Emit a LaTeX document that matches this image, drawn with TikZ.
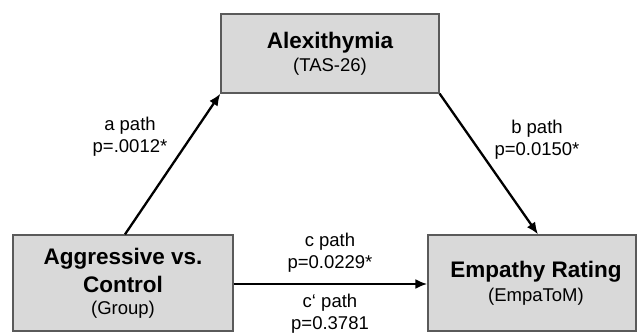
\documentclass[tikz,border=0pt]{standalone}
\usepackage{fontspec}
\setmainfont{Liberation Sans}
\usetikzlibrary{arrows.meta}
\definecolor{boxfill}{HTML}{D9D9D9}
\definecolor{boxline}{HTML}{5A5A5A}
\newcommand{\bigb}[1]{{\fontsize{22.5}{22}\selectfont\bfseries #1}}
\begin{document}
\begin{tikzpicture}[x=1pt,y=-1pt,
  varbox/.style={draw=boxline,line width=1.3pt,fill=boxfill,align=center,inner sep=0pt,
    font=\fontsize{18.5}{22}\selectfont},
  pathlbl/.style={align=center,inner sep=0pt,font=\fontsize{18.5}{22}\selectfont},
  conn/.style={line width=2.3pt,-{Latex[length=12pt,width=10pt]}}]
\useasboundingbox (0,0) rectangle (638,333);
\node[varbox,minimum width=218pt,minimum height=79pt] (alex) at (330,53.5)
  {\bigb{Alexithymia}\\[1pt](TAS-26)};
\node[varbox,minimum width=220pt,minimum height=96pt] (agg) at (123,283)
  {\bigb{Aggressive vs.}\\[6pt]\bigb{Control}\\(Group)};
\node[varbox,minimum width=208pt,minimum height=96pt,text width=208pt,xshift=0pt] (emp) at (532,283)
  {\hspace*{8pt}\bigb{Empathy Rating}\\[2pt]\hspace*{8pt}(EmpaToM)};
\draw[conn] ([xshift=2pt]agg.north) -- (alex.south west);
\draw[conn] (alex.south east) -- ([xshift=6pt]emp.north);
\draw[conn] ([yshift=-1pt]agg.east) -- ([yshift=-1pt]emp.west);
\node[pathlbl] (alab) at (130,137) {a path\\p=.0012*};
\node[pathlbl] (blab) at (537,140) {b path\\p=0.0150*};
\node[pathlbl] (clab) at (330,253) {c path\\p=0.0229*};
\node[pathlbl] (cplab) at (330,314) {c‘ path\\p=0.3781};
\end{tikzpicture}
\end{document}
